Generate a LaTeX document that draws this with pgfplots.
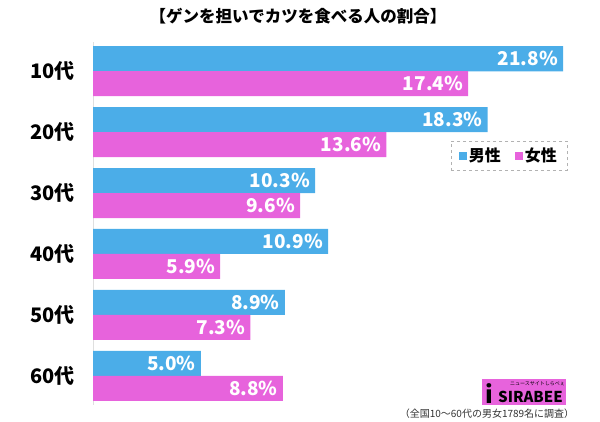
\documentclass[border=0pt]{standalone}
\usepackage{fontspec}
\setmainfont{Noto Sans CJK JP}
\usepackage{pgfplots}
\pgfplotsset{compat=1.18}
\definecolor{male}{HTML}{4BADE8}
\definecolor{female}{HTML}{E763DC}
\begin{document}
\begin{tikzpicture}[x=1pt,y=1pt]
\useasboundingbox (0,0) rectangle (600,422);
\node[font=\bfseries\fontsize{16.5}{16.5}\selectfont] at (298,406) {【ゲンを担いでカツを食べる人の割合】};
\begin{axis}[
  at={(93pt,17pt)}, anchor=south west,
  scale only axis, width=477pt, height=363pt,
  xmin=0, xmax=22.12, ymin=-0.48, ymax=5.48, y dir=reverse,
  axis x line=none, axis y line*=left,
  axis line style={gray!25, line width=0.8pt},
  ytick={0,1,2,3,4,5},
  yticklabels={10代,20代,30代,40代,50代,60代},
  major tick length=0pt,
  yticklabel style={font=\bfseries\fontsize{20}{20}\selectfont, xshift=-15pt},
  xbar, bar width=25pt, bar shift=0pt,
  /pgf/number format/assume math mode=true,
  point meta=x,
  nodes near coords={\pgfmathprintnumber[fixed,precision=1,fixed zerofill]{\pgfplotspointmeta}\%},
  every node near coord/.append style={anchor=east, text=white, font=\bfseries\fontsize{19}{19}\selectfont, inner sep=1pt, xshift=-4pt},
  legend style={at={(0.75,0.727)}, anchor=north west, legend columns=2, draw=gray!60, dashed, fill=white, font=\bfseries\fontsize{16}{16}\selectfont, inner xsep=8pt, inner ysep=5pt, /tikz/every even column/.append style={column sep=12pt}},
  legend image code/.code={\fill[#1, draw=none, solid] (2pt,-4pt) rectangle (10pt,4pt);},
]
\addplot[fill=male, draw=none] coordinates {(21.8,-0.205) (18.3,0.795) (10.3,1.795) (10.9,2.795) (8.9,3.795) (5.0,4.795)};
\addplot[fill=female, draw=none] coordinates {(17.4,0.205) (13.6,1.205) (9.6,2.205) (5.9,3.205) (7.3,4.205) (8.8,5.205)};
\legend{男性,女性}
\end{axis}
\fill[female] (482,17) rectangle (566,43);
\node[anchor=south west, inner sep=0pt, font=\bfseries\fontsize{15}{15}\selectfont] at (498,19) {SIRABEE};
\node[anchor=south west, inner sep=0pt, font=\fontsize{5}{5}\selectfont] at (510,36) {ニュースサイトしらべぇ};
\node[anchor=south west, inner sep=0pt, font=\bfseries\fontsize{24}{24}\selectfont] at (485,18) {i};
\node[font=\fontsize{10}{10}\selectfont, text=black!80] at (487,8) {（全国10～60代の男女1789名に調査）};
\end{tikzpicture}
\end{document}
